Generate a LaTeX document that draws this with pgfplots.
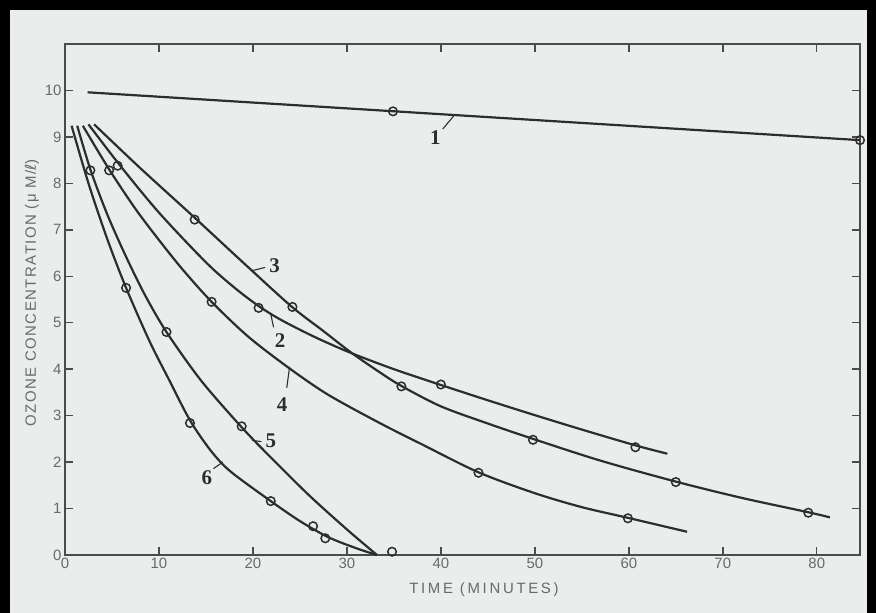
\documentclass[border=0pt]{standalone}
\usepackage{fontspec}
\setmainfont{Liberation Sans}
\newfontfamily\labfont{Liberation Serif}
\newfontfamily\spaced[LetterSpace=10]{Liberation Sans}
\newfontfamily\xspaced[LetterSpace=18]{Liberation Sans}
\newfontfamily\djvfont{DejaVu Sans}
\usepackage{pgfplots}
\pgfplotsset{compat=1.18}
\definecolor{bg}{RGB}{233,238,236}
\definecolor{ink}{RGB}{45,45,45}
\definecolor{axc}{RGB}{75,75,75}
\definecolor{tk}{RGB}{105,105,105}
\begin{document}
\begin{tikzpicture}
\fill[black] (0bp,0bp) rectangle (876bp,613bp);
\fill[bg] (10bp,0bp) rectangle (867bp,603bp);
\begin{axis}[
  at={(65bp,58bp)}, anchor=south west,
  scale only axis, width=795bp, height=511bp,
  xmin=0, xmax=84.6, ymin=0, ymax=11,
  xtick={0,10,...,80}, ytick={0,1,...,10},
  tick align=inside, major tick length=8bp,
  xtick pos=both, ytick pos=both,
  xticklabel pos=lower, yticklabel pos=left,
  axis line style={draw=axc, line width=1.9bp},
  every tick/.style={draw=axc, line width=1.4bp},
  /pgf/number format/assume math mode=true,
  ticklabel style={font=\fontsize{15}{15}\selectfont, text=tk},
  xlabel={\xspaced TIME (MINUTES)},
  ylabel={\spaced OZONE CONCENTRATION (μ M/{\djvfont ℓ})},
  xlabel style={at={(axis description cs:0.527,0)}, anchor=center, yshift=-35bp, font=\fontsize{15}{15}\selectfont, text=tk},
  ylabel style={at={(axis description cs:0,0.513)}, anchor=center, yshift=33bp, font=\fontsize{15}{15}\selectfont, text=tk},
  clip=false,
  every axis plot/.append style={ink, line width=2.2bp},
]
% curve 1
\addplot[smooth] coordinates {(2.4,9.96) (84.6,8.93)};
% curve 2
\addplot[smooth] coordinates {(2.5,9.27) (5.8,8.4) (10,7.37) (15,6.3) (18,5.76) (20.6,5.36) (23,5.06) (26.5,4.7) (30.3,4.36) (35,4.0) (40,3.66) (45,3.33) (50,3.01) (55,2.7) (60.7,2.36) (64.1,2.18)};
% curve 3
\addplot[smooth] coordinates {(3.1,9.27) (8,8.33) (13.8,7.26) (19.2,6.25) (24.1,5.35) (27.5,4.82) (30.3,4.38) (33,4.0) (35.7,3.65) (40,3.2) (45,2.83) (49.8,2.5) (57,2.03) (65,1.58) (72,1.23) (79.1,0.92) (81.4,0.81)};
% curve 4
\addplot[smooth] coordinates {(1.9,9.24) (4.7,8.3) (7.5,7.45) (10,6.78) (12.5,6.15) (15.6,5.45) (19.5,4.7) (23.8,4.03) (28,3.45) (33.5,2.84) (38,2.38) (44,1.78) (50,1.33) (55,1.03) (59.9,0.8) (66.2,0.5)};
% curve 5
\addplot[smooth] coordinates {(1.3,9.24) (2.7,8.3) (4.5,7.33) (6.5,6.42) (8.5,5.6) (10.8,4.8) (14.5,3.75) (18.8,2.75) (22,2.08) (26,1.28) (30,0.55) (33.2,0)};
% curve 6
\addplot[smooth] coordinates {(0.7,9.24) (2.5,8.0) (4.5,6.8) (6.5,5.75) (9,4.6) (11,3.8) (13.3,2.9) (15.5,2.25) (17.6,1.8) (21.9,1.16) (25,0.73) (28,0.385) (31,0.145) (33.2,0)};
% measured points
\addplot[only marks, mark=o, mark size=4.3pt, mark options={draw=ink, fill=bg, line width=1.5bp}] coordinates {
 (34.9,9.55) (84.6,8.93)
 (5.6,8.38) (20.6,5.32) (40,3.67) (60.7,2.32)
 (13.8,7.22) (24.2,5.34) (35.8,3.63) (49.8,2.48) (65,1.57) (79.1,0.91)
 (4.7,8.28) (15.6,5.45) (44,1.77) (59.9,0.79)
 (2.7,8.28) (10.8,4.8) (18.8,2.77)
 (6.5,5.75) (13.3,2.84) (21.9,1.16) (26.4,0.62) (27.7,0.36) (34.8,0.07)
};
% curve labels
\begin{scope}[every node/.style={font=\labfont\bfseries\fontsize{21}{21}\selectfont, text=ink}]
\node at (axis cs:39.4,8.98) {1};
\node at (axis cs:22.9,4.62) {2};
\node at (axis cs:22.3,6.22) {3};
\node at (axis cs:23.1,3.24) {4};
\node at (axis cs:21.9,2.45) {5};
\node at (axis cs:15.1,1.66) {6};
\end{scope}
\draw[ink, line width=1.1bp] (axis cs:40.2,9.17) -- (axis cs:41.4,9.46);
\draw[ink, line width=1.1bp] (axis cs:22.2,4.9) -- (axis cs:21.9,5.18);
\draw[ink, line width=1.1bp] (axis cs:21.3,6.19) -- (axis cs:19.9,6.12);
\draw[ink, line width=1.1bp] (axis cs:23.6,3.6) -- (axis cs:23.9,4.05);
\draw[ink, line width=1.1bp] (axis cs:20.9,2.44) -- (axis cs:19.9,2.47);
\draw[ink, line width=1.1bp] (axis cs:15.8,1.86) -- (axis cs:16.8,2.0);
\end{axis}
\end{tikzpicture}
\end{document}
